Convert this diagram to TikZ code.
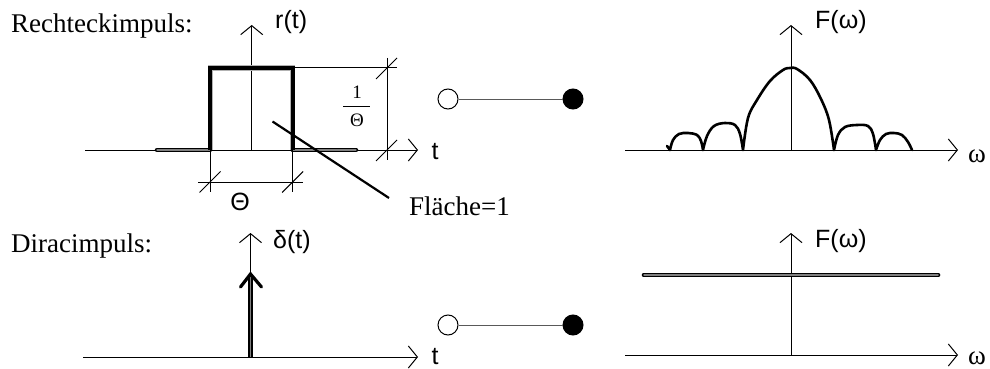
\documentclass[tikz,border=0pt]{standalone}
\usepackage{fontspec}
\setmainfont{Liberation Serif}
\setsansfont{Liberation Sans}
\usetikzlibrary{arrows.meta}
\begin{document}
\begin{tikzpicture}[x=1pt, y=-1pt,
  axis/.style={line width=1pt, -{Straight Barb[length=9pt,width=22pt]}},
  thin/.style={line width=1pt},
  pulse/.style={line width=1.6pt, double=black!50, double distance=1.3pt, line cap=round},
  rectout/.style={line width=5pt, gray!60, line join=miter},
  rectin/.style={line width=3.6pt, black, line join=miter},
  spec/.style={line width=2.6pt, line join=round, line cap=round},
  link/.style={line width=1pt, black!65},
  circ/.style={circle, draw, line width=1pt, minimum size=20pt, inner sep=0pt, fill=white},
  dot/.style={circ, fill=black},
  serif/.style={font=\fontsize{27}{30}\selectfont, inner sep=0pt},
  sans/.style={font=\sffamily\fontsize{25}{28}\selectfont, inner sep=0pt},
  small/.style={font=\fontsize{19}{21}\selectfont, inner sep=0pt},
  omg/.style={font=\fontsize{27}{30}\selectfont, inner sep=0pt}]
\useasboundingbox (0,0) rectangle (990,369);

% ---------- headings ----------
\node[serif, anchor=base west] (h1) at (11,33) {Rechteckimpuls:};
\node[serif, anchor=base west] (h2) at (11,252) {Diracimpuls:};

% ---------- rectangular pulse r(t) ----------
\draw[axis] (85,150) -- (418,150);
\draw[axis] (251.7,150) -- (251.7,25);
\node[sans, anchor=base west] (rt) at (275,29) {r(t)};
\node[sans, anchor=base] (t1) at (435,159) {t};

\draw[pulse] (157,150) -- (210,150);
\draw[pulse] (292.7,150) -- (356,150);
\draw[rectout] (210,150) -- (210,68) -- (292.7,68) -- (292.7,150);
\draw[rectin] (210,150) -- (210,68) -- (292.7,68) -- (292.7,150);

% height dimension 1/Theta
\draw[thin] (292.7,68) -- (397,68);
\draw[thin] (387,58) -- (387,160);
\draw[thin] (376,79) -- (397,58);
\draw[thin] (376,161) -- (397,140);
\node[small, anchor=base] (num) at (357,98) {1};
\draw[line width=0.9pt] (343,106) -- (370,106);
\node[small, anchor=base] (den) at (357,126) {Θ};

% width dimension Theta
\draw[thin] (210,150) -- (210,192);
\draw[thin] (292.7,150) -- (292.7,192);
\draw[thin] (198,182) -- (303,182);
\draw[thin] (199.5,192.5) -- (220.5,171.5);
\draw[thin] (282.2,192.5) -- (303.2,171.5);
\node[sans, anchor=base] (th) at (240,210) {Θ};

% area label
\node[serif, anchor=base west] (area) at (409,215) {Fläche=1};
\draw[line width=2.2pt] (272.5,121.5) -- (389,198);

% ---------- correspondence symbols ----------
\node[circ] (o1) at (448,99) {};
\node[dot]  (f1) at (573,99) {};
\draw[link] (o1) -- (f1);
\node[circ] (o2) at (448,325) {};
\node[dot]  (f2) at (573,325) {};
\draw[link] (o2) -- (f2);

% ---------- spectrum of the rectangular pulse ----------
\draw[axis] (625,150) -- (958,150);
\draw[axis] (791,150) -- (791,25);
\node[sans, anchor=base west] (F1) at (815,29) {F(ω)};
\node[omg, anchor=base] (w1) at (977,162) {ω};

\draw[spec] (667,146) -- (670,150)
  plot[smooth, tension=0.6] coordinates {(670,150) (673,140) (679,134) (688,133) (697,135) (701,141) (703,150)}
  plot[smooth, tension=0.6] coordinates {(703,150) (707,136) (714,126) (725,123) (735,125) (740,134) (743,150)}
  plot[smooth, tension=0.6] coordinates {(743,150) (748,118) (757,100) (770,81) (783,70) (790,68) (797,69) (810,80) (821,99) (829,120) (834,150)}
  plot[smooth, tension=0.6] coordinates {(834,150) (838,135) (845,127) (857,125) (868,126) (873,134) (876,150)}
  plot[smooth, tension=0.6] coordinates {(876,150) (880,140) (886,134) (894,133) (902,135) (908,142) (912,150)};

% ---------- Dirac impulse ----------
\draw[axis] (83,357) -- (418,357);
\draw[axis] (250.5,357) -- (250.5,233);
\node[sans, anchor=base west] (dt) at (273,248) {δ(t)};
\node[sans, anchor=base] (t2) at (435,364) {t};
\draw[line width=1.8pt, double=black!50, double distance=1.4pt] (250.5,357) -- (250.5,277);
\draw[line width=3.2pt, line cap=round, line join=miter] (240.5,287) -- (250.5,274) -- (261.5,287);

% ---------- spectrum of the Dirac impulse ----------
\draw[axis] (625,355) -- (958,355);
\draw[axis] (791,355) -- (791,233);
\node[sans, anchor=base west] (F2) at (815,247) {F(ω)};
\node[omg, anchor=base] (w2) at (977,364) {ω};
\draw[pulse, double distance=1.5pt] (644,275) -- (938,275);
\end{tikzpicture}
\end{document}
